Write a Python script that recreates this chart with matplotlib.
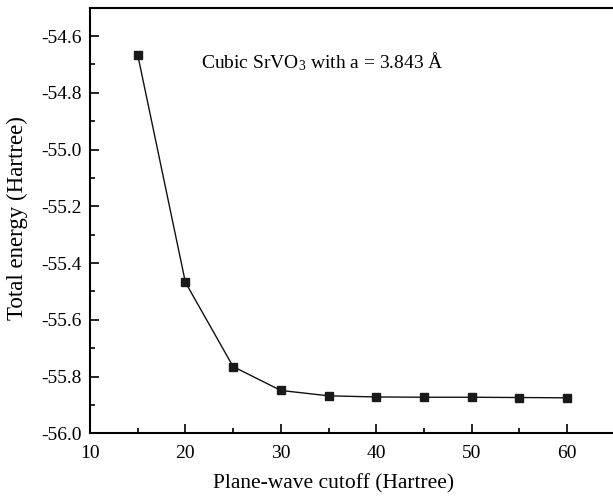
import matplotlib
matplotlib.use("Agg")
from matplotlib import pyplot as plt
from matplotlib.ticker import MultipleLocator

# convergence of total energy against plane-wave cutoff
cutoff = [15, 20, 25, 30, 35, 40, 45, 50, 55, 60]
energy = [-54.666, -55.468, -55.765, -55.849, -55.868, -55.872,
          -55.873, -55.873, -55.874, -55.875]

plt.rcParams['font.family'] = ['Liberation Serif', 'DejaVu Serif']
plt.rcParams['mathtext.fontset'] = 'custom'
plt.rcParams['mathtext.rm'] = 'Liberation Serif'
plt.rcParams['mathtext.it'] = 'Liberation Serif:italic'


def main():
    fig = plt.figure(figsize=(6.13, 4.99), dpi=100)
    ax = fig.add_axes([0.1468, 0.1317, 0.856, 0.853])

    ax.plot(cutoff, energy, color='#111111', linewidth=1.0,
            marker='s', markersize=6, markerfacecolor='#1a1a1a',
            markeredgecolor='#1a1a1a')

    ax.set_xlim(10, 65)
    ax.set_ylim(-56.0, -54.5)
    ax.xaxis.set_major_locator(MultipleLocator(10))
    ax.xaxis.set_minor_locator(MultipleLocator(5))
    ax.yaxis.set_major_locator(MultipleLocator(0.2))
    ax.yaxis.set_minor_locator(MultipleLocator(0.1))
    ax.yaxis.set_major_formatter(plt.FuncFormatter(lambda v, p: '%.1f' % v))

    ax.tick_params(which='major', direction='in', length=6.5, width=1.2,
                   labelsize=14)
    ax.tick_params(which='minor', direction='in', length=3.5, width=1.2)
    ax.tick_params(axis='x', which='major', pad=8.5)
    ax.tick_params(axis='y', which='major', pad=6)
    for side in ax.spines.values():
        side.set_linewidth(1.5)

    ax.set_xlabel('Plane-wave cutoff (Hartree)', fontsize=15.5, va='center')
    ax.set_ylabel('Total energy (Hartree)', fontsize=16.5, va='center')
    ax.xaxis.set_label_coords(0.465, -0.119)
    ax.yaxis.set_label_coords(-0.138, 0.505)

    ax.text(21.6, -54.69, r'Cubic SrVO$_3$ with a = 3.843 Å',
            fontsize=14, ha='left', va='center')

    fig.savefig('out.png', dpi=100)


if __name__ == "__main__":
    main()
